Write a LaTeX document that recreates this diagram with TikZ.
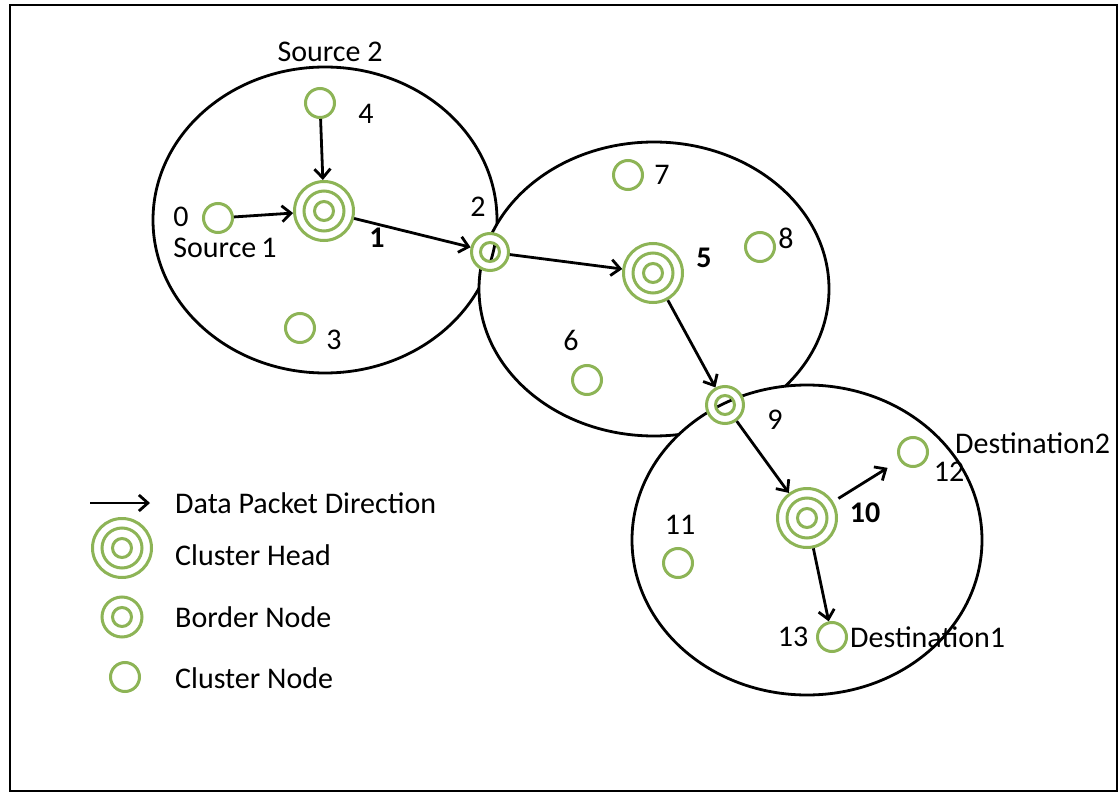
\documentclass[tikz,border=0pt]{standalone}
\usepackage{fontspec}
\setmainfont{Carlito}
\usetikzlibrary{arrows.meta}
\definecolor{grn}{RGB}{141,180,86}
\begin{document}
\begin{tikzpicture}[x=1pt,y=-1pt,
  ring/.style={grn, line width=3pt},
  plain/.style={circle, draw=grn, line width=3pt, fill=white, minimum size=29pt, inner sep=0pt},
  border/.style={plain, minimum size=37pt,
    path picture={\draw[ring] (path picture bounding box.center) circle[radius=9.5pt];}},
  head/.style={plain, minimum size=59pt,
    path picture={\draw[ring] (path picture bounding box.center) circle[radius=20pt] circle[radius=9.5pt];}},
  cluster/.style={draw=black, line width=2.8pt, fill=white},
  flow/.style={-{Straight Barb[length=9pt,width=16pt]}, line width=2.8pt},
  lbl/.style={font=\fontsize{30}{36}\selectfont, inner sep=0pt},
  blbl/.style={lbl, font=\fontsize{30}{36}\selectfont\bfseries},
]
\useasboundingbox (0,0) rectangle (1119,794);
\draw[line width=1.8pt] (10,5) rectangle (1117,791);

% clusters
\draw[cluster] (325,220) ellipse[x radius=172pt, y radius=153pt];
\draw[cluster] (654,289) ellipse[x radius=175pt, y radius=147pt];
\draw[cluster] (807,540) ellipse[x radius=175pt, y radius=155pt];

% nodes
\node[plain] (n0) at (218,218) {};
\node[head]  (n1) at (324,211) {};
\node[border] (n2) at (490,252) {};
\node[plain] (n3) at (300,328) {};
\node[plain] (n4) at (320,103) {};
\node[head]  (n5) at (653,273) {};
\node[plain] (n6) at (587,380) {};
\node[plain] (n7) at (628,175) {};
\node[plain] (n8) at (760,247) {};
\node[border] (n9) at (725,405) {};
\node[head]  (n10) at (807,518) {};
\node[plain] (n11) at (678,563) {};
\node[plain] (n12) at (913,452) {};
\node[plain] (n13) at (832,637) {};

% cluster outlines seen through the border nodes
\begin{scope}
  \clip (n2.center) circle[radius=8pt];
  \draw[line width=2.8pt] (325,220) ellipse[x radius=172pt, y radius=153pt];
\end{scope}
\begin{scope}
  \clip (n9.center) circle[radius=8pt];
  \draw[line width=2.8pt] (807,540) ellipse[x radius=175pt, y radius=155pt];
\end{scope}

% packet flow
\draw[flow] (n0) -- (n1);
\draw[flow] (n4) -- (n1);
\draw[flow] (n1) -- (n2);
\draw[flow] (n2) -- (n5);
\draw[flow] (n5) -- (n9);
\draw[flow] (n9) -- (n10);
\draw[flow, shorten <=6pt, shorten >=14pt] (n10) -- (n12);
\draw[flow] (n10) -- (n13);

% labels
\node[lbl] (t0) at (181,217) {0};
\node[lbl] (s1) at (225,248) {Source\,1};
\node[blbl] (t1) at (377,238) {1};
\node[lbl] (t2) at (478,207) {2};
\node[lbl] (t3) at (334,340) {3};
\node[lbl] (t4) at (366,114) {4};
\node[lbl] (s2) at (330,52) {Source 2};
\node[blbl] (t5) at (704,258) {5};
\node[lbl] (t6) at (571,340) {6};
\node[lbl] (t7) at (662,175) {7};
\node[lbl] (t8) at (786,238) {8};
\node[lbl] (t9) at (775,420) {9};
\node[blbl] (t10) at (865,513) {10};
\node[lbl] (t11) at (680,525) {11};
\node[lbl] (t12) at (949,472) {12};
\node[lbl, anchor=west] (d2) at (955,443) {Destination2};
\node[lbl] (t13) at (793,637) {13};
\node[lbl, anchor=west] (d1) at (850,637) {Destination1};

% legend
\coordinate (la) at (90,503);
\coordinate (lb) at (150,503);
\draw[flow] (la) -- (lb);
\node[head] (lh) at (122,548) {};
\node[border, minimum size=40pt] (lbn) at (122,617) {};
\node[plain] (lc) at (125,677) {};
\node[lbl, anchor=west] (k1) at (175,503) {Data Packet Direction};
\node[lbl, anchor=west] (k2) at (175,555) {Cluster Head};
\node[lbl, anchor=west] (k3) at (175,617) {Border Node};
\node[lbl, anchor=west] (k4) at (175,678) {Cluster Node};
\end{tikzpicture}
\end{document}
